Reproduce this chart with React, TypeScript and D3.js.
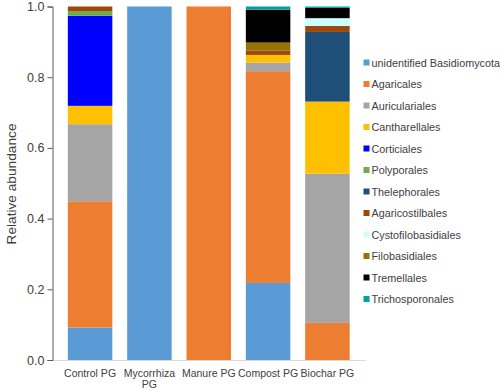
import React, { useEffect, useRef } from "react";
import * as d3 from "d3";

const groups = ["Control PG", "Mycorrhiza PG", "Manure PG", "Compost PG", "Biochar PG"];
const taxa = [
  "unidentified Basidiomycota",
  "Agaricales",
  "Auriculariales",
  "Cantharellales",
  "Corticiales",
  "Polyporales",
  "Thelephorales",
  "Agaricostilbales",
  "Cystofilobasidiales",
  "Filobasidiales",
  "Tremellales",
  "Trichosporonales"
];
const colors = [
  "#5B9BD5", "#ED7D31", "#A5A5A5", "#FFC000", "#0000FF", "#70AD47",
  "#1F4E79", "#9E480E", "#CCFFFF", "#997300", "#000000", "#00A0A0"
];
// one array per group, in taxa order
const controlPG = [0.092, 0.357, 0.218, 0.052, 0.255, 0.013, 0, 0.013, 0, 0, 0, 0];
const mycorrhizaPG = [1, 0, 0, 0, 0, 0, 0, 0, 0, 0, 0, 0];
const manurePG = [0, 1, 0, 0, 0, 0, 0, 0, 0, 0, 0, 0];
const compostPG = [0.218, 0.599, 0.024, 0.022, 0, 0, 0, 0.012, 0, 0.023, 0.093, 0.009];
const biocharPG = [0, 0.105, 0.422, 0.204, 0, 0, 0.197, 0.017, 0.022, 0, 0.029, 0.004];
const yTicks = [0, 0.2, 0.4, 0.6, 0.8, 1.0];

const App = () => {
  const ref = useRef<SVGSVGElement>(null);

  useEffect(() => {
    const svg = d3.select(ref.current);
    svg.selectAll("*").remove();

    const values = [controlPG, mycorrhizaPG, manurePG, compostPG, biocharPG];
    const rows = groups.map((g, i) => {
      const row: any = { group: g };
      taxa.forEach((t, j) => (row[t] = values[i][j]));
      return row;
    });

    const x = d3.scaleBand().domain(groups).range([53, 364.5]).padding(0.25);
    const y = d3.scaleLinear().domain([0, 1]).range([360, 6.5]);
    const color = d3.scaleOrdinal<string>().domain(taxa).range(colors);
    const stack = d3.stack().keys(taxa)(rows);

    const font = "'Liberation Sans', Arial, sans-serif";

    // bars
    svg
      .append("g")
      .selectAll("g")
      .data(stack)
      .enter()
      .append("g")
      .attr("fill", (d: any) => color(d.key))
      .selectAll("rect")
      .data((d: any) => d)
      .enter()
      .append("rect")
      .attr("x", (d: any) => x(d.data.group)!)
      .attr("width", x.bandwidth())
      .attr("y", (d: any) => y(d[1]))
      .attr("height", (d: any) => y(d[0]) - y(d[1]));

    // x axis line
    svg
      .append("line")
      .attr("x1", 52)
      .attr("x2", 366)
      .attr("y1", 360.5)
      .attr("y2", 360.5)
      .attr("stroke", "#d9d9d9");

    // y axis
    const yAxis = svg
      .append("g")
      .attr("transform", "translate(52.5,0)")
      .call(d3.axisLeft(y).tickValues(yTicks).tickFormat(d3.format(".1f")).tickSizeOuter(0).tickSize(5).tickPadding(3));
    yAxis.select(".domain").attr("stroke", "#595959");
    yAxis.selectAll("line").attr("stroke", "#595959");
    yAxis
      .selectAll("text")
      .attr("font-family", font)
      .attr("font-size", 12.5)
      .attr("fill", "#404040");

    // x labels
    const xl = svg.append("g");
    groups.forEach(g => {
      const words = g === "Mycorrhiza PG" ? ["Mycorrhiza", "PG"] : [g];
      words.forEach((w, k) => {
        xl.append("text")
          .attr("x", x(g)! + x.bandwidth() / 2)
          .attr("y", 377 + k * 11)
          .attr("text-anchor", "middle")
          .attr("font-family", font)
          .attr("font-size", 10.5)
          .attr("fill", "#404040")
          .text(w);
      });
    });

    // y label
    svg
      .append("text")
      .attr("transform", "translate(16,184) rotate(-90)")
      .attr("text-anchor", "middle")
      .attr("font-family", font)
      .attr("font-size", 13.7)
      .attr("fill", "#404040")
      .text("Relative abundance");

    // legend
    const leg = svg.append("g");
    taxa.forEach((t, i) => {
      const ly = 62.5 + i * 21.5;
      leg.append("rect")
        .attr("x", 363.5)
        .attr("y", ly - 3)
        .attr("width", 6)
        .attr("height", 6)
        .attr("fill", color(t));
      leg.append("text")
        .attr("x", 371.5)
        .attr("y", ly + 4)
        .attr("font-family", font)
        .attr("font-size", 10.8)
        .attr("fill", "#404040")
        .text(t);
    });
  }, []);

  return (
    <svg
      ref={ref}
      width={500}
      height={390}
      style={{ position: "absolute", left: 0, top: 0, background: "#fff" }}
    />
  );
};

export default App;
